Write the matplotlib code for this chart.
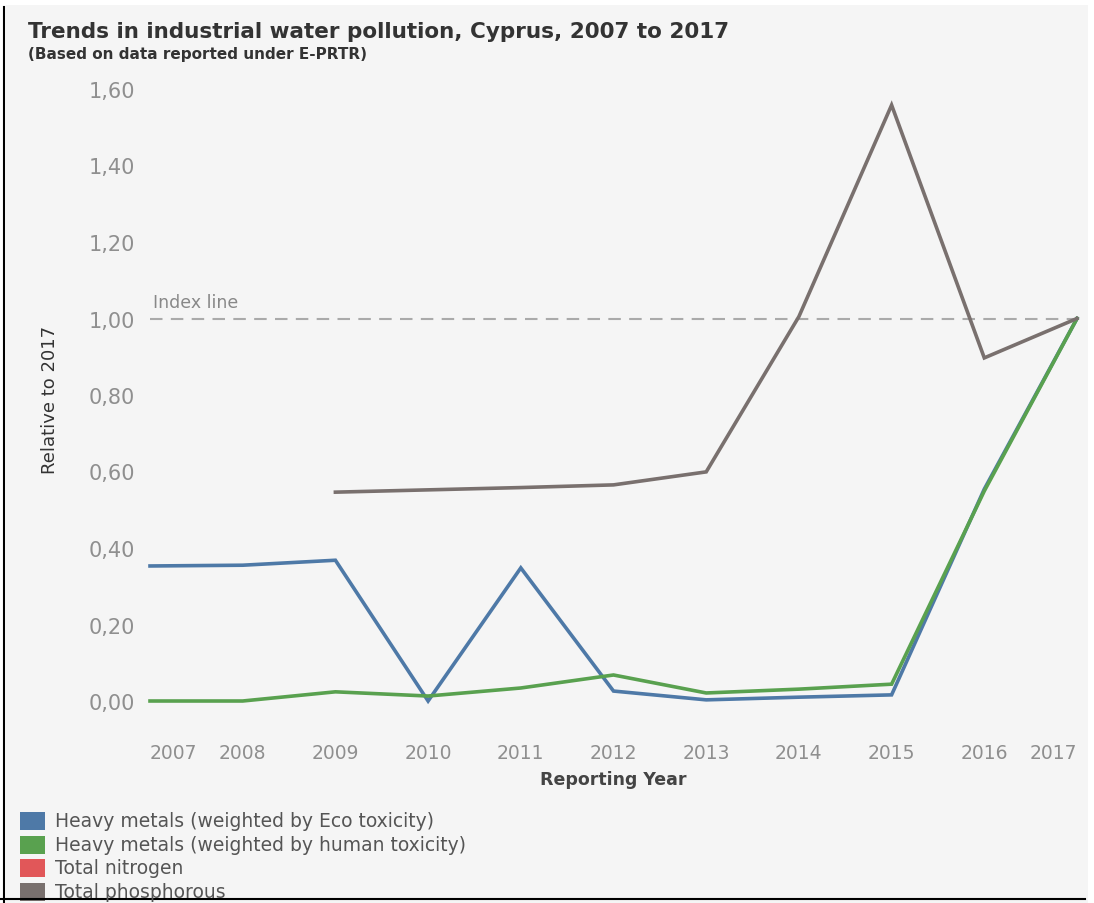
import numpy as np
import matplotlib
matplotlib.use("Agg")
import matplotlib.pyplot as plt
from matplotlib.lines import Line2D
from matplotlib.patches import Rectangle
from matplotlib.ticker import FuncFormatter

years = [2007, 2008, 2009, 2010, 2011, 2012, 2013, 2014, 2015, 2016, 2017]
eco_toxicity = [0.353, 0.355, 0.368, 0.0, 0.348, 0.026, 0.003, 0.010, 0.016, 0.554, 1.0]
human_toxicity = [0.0, 0.0, 0.024, 0.013, 0.034, 0.068, 0.021, 0.031, 0.044, 0.549, 1.0]
total_nitrogen = [np.nan] * 11
total_phosphorous = [np.nan, np.nan, 0.546, 0.552, 0.558, 0.565, 0.599, 1.005, 1.558, 0.897, 1.0]

series_names = [
    "Heavy metals (weighted by Eco toxicity)",
    "Heavy metals (weighted by human toxicity)",
    "Total nitrogen",
    "Total phosphorous",
]
series_values = [eco_toxicity, human_toxicity, total_nitrogen, total_phosphorous]
colors = ["#4e79a7", "#59a14f", "#e15759", "#79706e"]
y_ticks = [0.0, 0.2, 0.4, 0.6, 0.8, 1.0, 1.2, 1.4, 1.6]

W, H = 1094, 904
FONT = "DejaVu Sans"
fig = plt.figure(figsize=(W / 100, H / 100), dpi=100, facecolor="white")
fig.add_artist(Rectangle((6 / W, 0), 1082 / W, 1 - 6 / H, transform=fig.transFigure,
                         facecolor="#f5f5f5", edgecolor="none", zorder=-10))
fig.add_artist(Line2D([4 / W, 4 / W], [0, 1 - 8 / H], transform=fig.transFigure, color="black", lw=1.5))
fig.add_artist(Line2D([0, 1085 / W], [4 / H, 4 / H], transform=fig.transFigure, color="black", lw=1.5))

ax = fig.add_axes([150 / W, (H - 702) / H, (1077 - 150) / W, (702 - 90) / H])
ax.set_facecolor("none")
ax.set_xlim(2007, 2017)
ax.set_ylim(0, 1.6)
for s in ax.spines.values():
    s.set_visible(False)

# index line
ax.axhline(1.0, color="#aaaaaa", lw=1.5, ls=(0, (6, 4)), zorder=1, clip_on=False)
ax.text(2007.03, 1.02, "Index line", fontsize=12.5, color="#888888", family=FONT,
        va="bottom", ha="left")

# green under blue so blue sits on top at the end
order = [1, 2, 3, 0]
for i in order:
    ax.plot(years, series_values[i], color=colors[i], lw=2.6, zorder=3 + i,
            clip_on=False, solid_joinstyle="miter")

ax.set_yticks(y_ticks)
ax.yaxis.set_major_formatter(FuncFormatter(lambda v, p: f"{v:.2f}".replace(".", ",")))
ax.set_xticks(years)
ax.set_xticklabels([str(y) for y in years])
ax.tick_params(axis="y", length=0, pad=11, labelsize=15, labelcolor="#8f8f8f")
ax.tick_params(axis="x", length=0, pad=30, labelsize=13.5, labelcolor="#8f8f8f")
for lab in ax.get_xticklabels() + ax.get_yticklabels():
    lab.set_family(FONT)
xl = ax.get_xticklabels()
xl[0].set_ha("left")
xl[-1].set_ha("right")

fig.text(613 / W, 1 - 780 / H, "Reporting Year", ha="center", va="center",
         fontsize=12.5, color="#444444", family=FONT, fontweight="bold")
fig.text(50 / W, 1 - 400 / H, "Relative to 2017", ha="center", va="center", rotation=90,
         fontsize=13, color="#333333", family=FONT)

fig.text(28 / W, 1 - 32 / H, "Trends in industrial water pollution, Cyprus, 2007 to 2017",
         ha="left", va="center", fontsize=15.5, color="#333333", family=FONT,
         fontweight="bold")
fig.text(28 / W, 1 - 55 / H, "(Based on data reported under E-PRTR)", ha="left", va="center",
         fontsize=11, color="#333333", family=FONT, fontweight="bold")

# legend
row_y = [822, 846, 869, 893]
for name, c, yy in zip(series_names, colors, row_y):
    fig.add_artist(Rectangle((20 / W, 1 - (yy + 9) / H), 25 / W, 18 / H,
                             transform=fig.transFigure, facecolor=c, edgecolor="none"))
    fig.text(55 / W, 1 - yy / H, name, ha="left", va="center", fontsize=13.5,
             color="#555555", family=FONT)

fig.savefig("out.png", dpi=100, facecolor=fig.get_facecolor())
